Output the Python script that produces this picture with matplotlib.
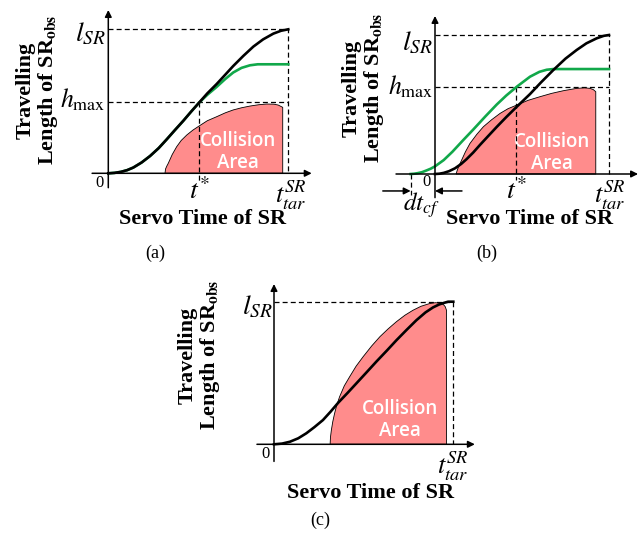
import matplotlib
matplotlib.use("Agg")
import matplotlib.pyplot as plt

plt.rcParams['mathtext.fontset'] = 'stix'
plt.rcParams['font.family'] = ['Liberation Serif', 'DejaVu Serif']

W, H = 640, 540
GREEN = '#11A84A'
PINK = '#FF8C8C'

# time in units of t_tar^SR, length in units of l_SR

# panel (a)
a_black_t = [0, 0.035, 0.07, 0.105, 0.139, 0.185, 0.232, 0.28, 0.324, 0.37, 0.417, 0.46, 0.504, 0.55, 0.602, 0.65, 0.694, 0.75, 0.806, 0.86, 0.917, 0.96, 1.0]
a_black_y = [0, 0.003, 0.01, 0.022, 0.04, 0.075, 0.12, 0.175, 0.235, 0.3, 0.365, 0.428, 0.49, 0.555, 0.62, 0.685, 0.745, 0.815, 0.88, 0.93, 0.97, 0.99, 1.0]
a_green_t = [0, 0.035, 0.07, 0.105, 0.139, 0.185, 0.232, 0.28, 0.324, 0.37, 0.417, 0.46, 0.504, 0.55, 0.602, 0.65, 0.694, 0.74, 0.787, 0.83, 1.0]
a_green_y = [0, 0.003, 0.01, 0.022, 0.04, 0.075, 0.12, 0.175, 0.235, 0.3, 0.365, 0.428, 0.49, 0.545, 0.6, 0.655, 0.7, 0.732, 0.75, 0.757, 0.757]
a_coll_t = [0.315, 0.318, 0.325, 0.333, 0.355, 0.38, 0.405, 0.436, 0.47, 0.504, 0.55, 0.602, 0.65, 0.694, 0.74, 0.787, 0.835, 0.88, 0.92, 0.944, 0.969, 0.969]
a_coll_y = [0, 0.03, 0.05, 0.069, 0.13, 0.185, 0.228, 0.266, 0.3, 0.328, 0.365, 0.393, 0.42, 0.44, 0.455, 0.467, 0.476, 0.481, 0.48, 0.474, 0.458, 0]
a_hmax = 0.493
a_tstar = 0.504

# panel (b)
b_black_t = [0, 0.025, 0.05, 0.08, 0.115, 0.15, 0.18, 0.22, 0.259, 0.305, 0.355, 0.41, 0.47, 0.546, 0.61, 0.68, 0.75, 0.814, 0.87, 0.929, 0.97, 1.0]
b_black_y = [0, 0.002, 0.008, 0.02, 0.041, 0.072, 0.105, 0.155, 0.21, 0.272, 0.339, 0.41, 0.484, 0.575, 0.66, 0.748, 0.83, 0.892, 0.94, 0.976, 0.994, 1.0]
b_green_t = [-0.14, -0.12, -0.10, -0.075, -0.05, -0.025, 0.0, 0.05, 0.10, 0.163, 0.22, 0.29, 0.355, 0.41, 0.47, 0.546, 0.60, 0.642, 0.68, 1.0]
b_green_y = [0, 0.002, 0.006, 0.013, 0.025, 0.038, 0.055, 0.10, 0.16, 0.245, 0.32, 0.415, 0.5, 0.565, 0.628, 0.70, 0.735, 0.75, 0.755, 0.755]
b_coll_t = [0.121, 0.13, 0.14, 0.153, 0.175, 0.201, 0.24, 0.278, 0.325, 0.374, 0.42, 0.47, 0.535, 0.603, 0.67, 0.737, 0.814, 0.86, 0.891, 0.91, 0.924, 0.924]
b_coll_y = [0, 0.035, 0.065, 0.10, 0.16, 0.22, 0.285, 0.34, 0.39, 0.436, 0.47, 0.496, 0.53, 0.556, 0.58, 0.599, 0.616, 0.62, 0.616, 0.607, 0.592, 0]
b_hmax = 0.626
b_tstar = 0.466
b_dtcf = -0.14

# panel (c)
c_black_t = [0, 0.045, 0.089, 0.135, 0.18, 0.225, 0.273, 0.315, 0.357, 0.41, 0.46, 0.515, 0.571, 0.63, 0.683, 0.74, 0.794, 0.845, 0.887, 0.92, 0.943, 0.971, 1.0]
c_black_y = [0, 0.005, 0.018, 0.042, 0.077, 0.12, 0.17, 0.228, 0.29, 0.36, 0.428, 0.503, 0.58, 0.658, 0.73, 0.803, 0.87, 0.925, 0.96, 0.98, 0.99, 1.0, 1.0]
c_coll_t = [0.313, 0.315, 0.32, 0.328, 0.338, 0.35, 0.366, 0.392, 0.422, 0.458, 0.497, 0.545, 0.591, 0.637, 0.683, 0.73, 0.775, 0.82, 0.868, 0.9, 0.924, 0.945, 0.955, 0.962, 0.962]
c_coll_y = [0, 0.05, 0.1, 0.16, 0.217, 0.275, 0.334, 0.41, 0.474, 0.548, 0.614, 0.69, 0.755, 0.81, 0.86, 0.905, 0.94, 0.968, 0.987, 0.993, 0.99, 0.98, 0.965, 0.94, 0]

fig = plt.figure(figsize=(W / 100, H / 100), dpi=100)


def px_axes(x0, x1, ytop, ybot):
    ax = fig.add_axes([x0 / W, 1 - ybot / H, (x1 - x0) / W, (ybot - ytop) / H])
    ax.set_xlim(0, 1)
    ax.set_ylim(0, 1)
    ax.axis('off')
    return ax


def arrow(ax, start, end, ms=10):
    ax.annotate('', xy=end, xytext=start, annotation_clip=False,
                arrowprops=dict(arrowstyle='-|>', lw=1.1, color='black',
                                mutation_scale=ms, shrinkA=0, shrinkB=0))


def dash(ax, xs, ys):
    ax.plot(xs, ys, color='black', lw=0.9, ls=(0, (4, 2.5)), clip_on=False)


def ftext(x, y, s, **kw):
    fig.text(x / W, 1 - y / H, s, ha='center', va='center', **kw)


def panel_text(cx, cy_x, ylab_xy, cap_xy, cap):
    ftext(cx, cy_x, 'Servo Time of SR', fontsize=16, fontweight='bold')
    ftext(ylab_xy[0], ylab_xy[1], 'Travelling\nLength of SR$_{\\mathbf{obs}}$',
          fontsize=16, fontweight='bold', rotation=90, linespacing=1.0,
          multialignment='center')
    ftext(cap_xy[0], cap_xy[1], cap, fontsize=13)


def collision(ax, t, y, cx, cy):
    ax.fill(t, y, facecolor=PINK, edgecolor='black', lw=0.6, zorder=1, clip_on=False)
    ax.text(cx, cy, 'Collision\nArea', color='white', fontsize=13.5,
            family='Open Sans', fontweight='semibold', ha='center', va='center',
            linespacing=1.15, zorder=2)


math = dict(fontsize=20)

# ---------- (a)
ax = px_axes(108.3, 288.3, 29.3, 173.3)
collision(ax, a_coll_t, a_coll_y, 0.72, 0.148)
dash(ax, [0, 1, 1], [1, 1, 0])
dash(ax, [0, 1], [a_hmax, a_hmax])
dash(ax, [a_tstar, a_tstar], [a_hmax, -0.05])
ax.plot(a_green_t, a_green_y, color=GREEN, lw=1.9, zorder=3, clip_on=False)
ax.plot(a_black_t, a_black_y, color='black', lw=1.9, zorder=3, clip_on=False)
arrow(ax, (-0.09, 0), (1.13, 0))
arrow(ax, (0, -0.10), (0, 1.134))
ax.text(-0.015, 0.97, '$l_{SR}$', ha='right', va='center', **math)
ax.text(-0.015, 0.51, '$h_{\\max}$', ha='right', va='center', fontsize=18.5)
ax.text(-0.05, -0.065, '0', ha='center', va='center', fontsize=12)
ax.text(a_tstar, -0.125, '$t^{*}$', ha='center', va='center', **math)
ax.text(1.015, -0.155, '$t_{tar}^{SR}$', ha='center', va='center', fontsize=19)
panel_text(203, 219, (38, 90), (155, 253), '(a)')

# ---------- (b)
ax = px_axes(435, 609, 35, 174)
collision(ax, b_coll_t, b_coll_y, 0.672, 0.151)
dash(ax, [0, 1, 1], [1, 1, 0])
dash(ax, [0, 1], [b_hmax, b_hmax])
dash(ax, [b_tstar, b_tstar], [b_hmax, -0.045])
dash(ax, [b_dtcf, b_dtcf], [0, -0.15])
ax.plot(b_green_t, b_green_y, color=GREEN, lw=1.9, zorder=3, clip_on=False)
ax.plot(b_black_t, b_black_y, color='black', lw=1.9, zorder=3, clip_on=False)
arrow(ax, (-0.224, 0), (1.167, 0))
arrow(ax, (0, -0.17), (0, 1.137))
arrow(ax, (-0.30, -0.122), (b_dtcf, -0.122))
arrow(ax, (0.155, -0.122), (0, -0.122))
ax.text(-0.01, 0.94, '$l_{SR}$', ha='right', va='center', **math)
ax.text(-0.01, 0.63, '$h_{\\max}$', ha='right', va='center', fontsize=18.5)
ax.text(-0.046, -0.06, '0', ha='center', va='center', fontsize=12)
ax.text(b_tstar, -0.125, '$t^{*}$', ha='center', va='center', **math)
ax.text(1.005, -0.15, '$t_{tar}^{SR}$', ha='center', va='center', fontsize=19)
ax.text(-0.08, -0.225, '$dt_{cf}$', ha='center', va='center', fontsize=18)
panel_text(530, 219, (364, 88), (487, 253), '(b)')

# ---------- (c)
ax = px_axes(274, 453.3, 301.7, 444.3)
collision(ax, c_coll_t, c_coll_y, 0.703, 0.17)
dash(ax, [0, 1, 1], [1, 1, 0])
ax.plot(c_black_t, c_black_y, color='black', lw=1.9, zorder=3, clip_on=False)
arrow(ax, (-0.095, 0), (1.12, 0))
arrow(ax, (0, -0.12), (0, 1.124))
ax.text(-0.005, 0.965, '$l_{SR}$', ha='right', va='center', **math)
ax.text(-0.045, -0.065, '0', ha='center', va='center', fontsize=12)
ax.text(1.0, -0.155, '$t_{tar}^{SR}$', ha='center', va='center', fontsize=19)
panel_text(371, 493, (200, 355), (320, 520), '(c)')

fig.savefig('out.png', dpi=100)
